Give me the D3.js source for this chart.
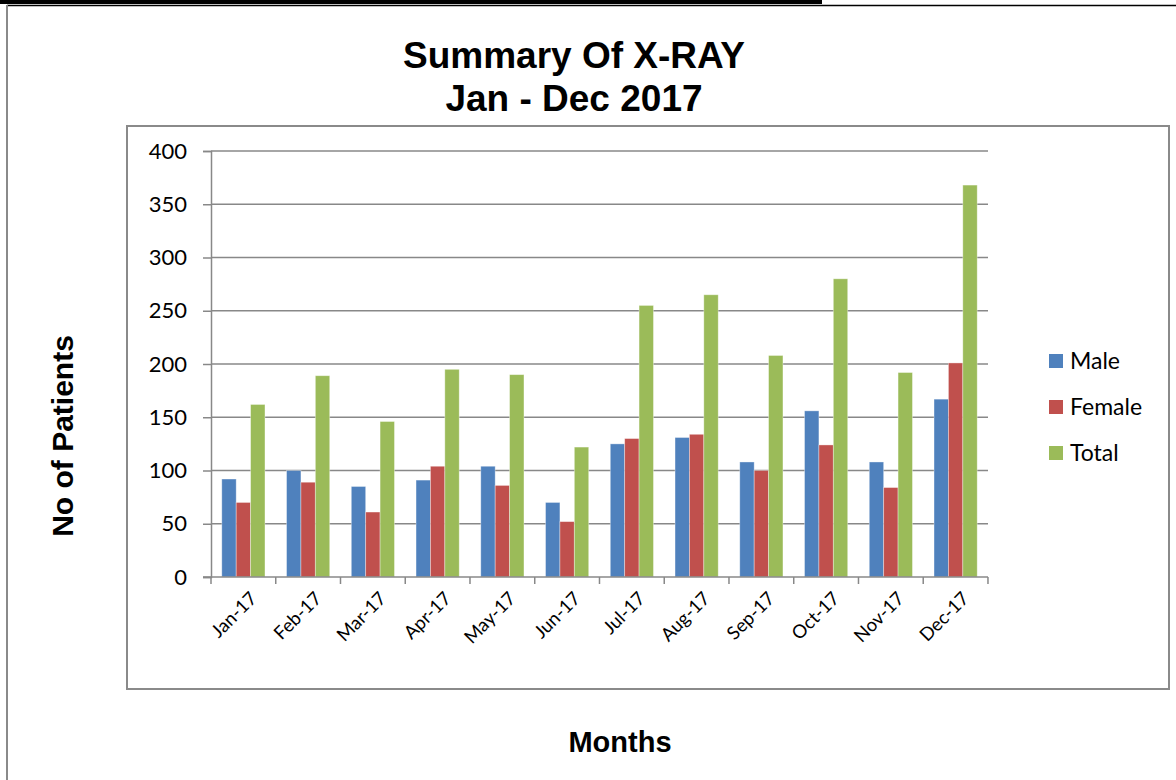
<!DOCTYPE html>
<html>
<head>
<meta charset="utf-8">
<script src="https://cdn.jsdelivr.net/npm/d3@7"></script>
<style>
  body { margin: 0; background: #fff; }
  svg { display: block; }
</style>
</head>
<body>
<svg id="chart" width="1176" height="780"></svg>
<script>
// data
var months = ["Jan-17","Feb-17","Mar-17","Apr-17","May-17","Jun-17","Jul-17","Aug-17","Sep-17","Oct-17","Nov-17","Dec-17"]
var seriesNames = ["Male","Female","Total"]
var male   = [92, 100, 85, 91, 104, 70, 125, 131, 108, 156, 108, 167]
var female = [70, 89, 61, 104, 86, 52, 130, 134, 100, 124, 84, 201]
var total  = [162, 189, 146, 195, 190, 122, 255, 265, 208, 280, 192, 368]
var yTicks = [0, 50, 100, 150, 200, 250, 300, 350, 400]
var colors = ["#4F81BD", "#C0504D", "#9BBB59"]

var svg = d3.select("#chart")

// page frame (top rule + left edge)
svg.append("rect").attr("x", 0).attr("y", 0).attr("width", 822).attr("height", 4).attr("fill", "#000")
svg.append("line").attr("x1", 7).attr("x2", 1176).attr("y1", 5.5).attr("y2", 5.5)
    .attr("stroke", "#000").attr("stroke-width", 1.5)
svg.append("line").attr("x1", 7).attr("x2", 7).attr("y1", 5).attr("y2", 780)
    .attr("stroke", "#8a8a8a").attr("stroke-width", 2)

// plot area box
svg.append("rect").attr("x", 127).attr("y", 126).attr("width", 1042).attr("height", 563)
    .attr("fill", "none").attr("stroke", "#8a8a8a").attr("stroke-width", 2)

// titles
svg.append("text").attr("x", 574).attr("y", 68).attr("text-anchor", "middle")
    .style("font-family", "Liberation Sans, Arial, sans-serif").style("font-weight", "bold").style("font-size", "37px")
    .text("Summary Of X-RAY")
svg.append("text").attr("x", 574).attr("y", 111).attr("text-anchor", "middle")
    .style("font-family", "Liberation Sans, Arial, sans-serif").style("font-weight", "bold").style("font-size", "37px")
    .text("Jan - Dec 2017")

var margin = {left: 211, top: 151, right: 988, bottom: 577}

var x0 = d3.scaleBand()
    .domain(months)
    .range([margin.left, margin.right])
    .paddingInner(0.333)
    .paddingOuter(0.1667)
var x1 = d3.scaleBand()
    .domain(seriesNames)
    .range([0, x0.bandwidth()])
var y = d3.scaleLinear()
    .domain([0, 400])
    .range([margin.bottom, margin.top])

// gridlines
svg.append("g")
    .selectAll("line")
    .data(yTicks.slice(1))
    .enter().append("line")
    .attr("x1", margin.left).attr("x2", margin.right)
    .attr("y1", d => y(d)).attr("y2", d => y(d))
    .attr("stroke", "#888").attr("stroke-width", 1.5)

// bars
var rows = months.map((m, i) => ({month: m, values: [male[i], female[i], total[i]]}))
svg.append("g")
    .selectAll("g")
    .data(rows)
    .enter().append("g")
    .attr("transform", d => "translate(" + x0(d.month) + ",0)")
    .selectAll("rect")
    .data(d => d.values.map((v, k) => ({name: seriesNames[k], value: v, k: k})))
    .enter().append("rect")
    .attr("x", d => x1(d.name))
    .attr("y", d => y(d.value))
    .attr("width", x1.bandwidth())
    .attr("height", d => y(0) - y(d.value))
    .attr("fill", d => colors[d.k])
    .attr("stroke", "rgba(255,255,255,0.45)")
    .attr("stroke-width", 0.8)

// y axis
var yAxis = svg.append("g")
    .attr("transform", "translate(" + margin.left + ",0)")
    .call(d3.axisLeft(y).tickValues(yTicks).tickSize(8).tickPadding(16))
yAxis.select(".domain").attr("stroke", "#888").attr("stroke-width", 1.5)
yAxis.selectAll(".tick line").attr("stroke", "#888").attr("stroke-width", 1.5)
yAxis.selectAll("text")
    .style("font-family", "Lato, Open Sans, sans-serif").style("font-size", "22px").attr("fill", "#000")

// x axis (ticks on band boundaries)
var xAxisG = svg.append("g")
xAxisG.append("line")
    .attr("x1", margin.left - 8).attr("x2", margin.right)
    .attr("y1", y(0)).attr("y2", y(0))
    .attr("stroke", "#888").attr("stroke-width", 1.5)
var step = x0.step()
xAxisG.selectAll("line.tk")
    .data(d3.range(months.length + 1))
    .enter().append("line").attr("class", "tk")
    .attr("x1", i => margin.left + i * step).attr("x2", i => margin.left + i * step)
    .attr("y1", y(0)).attr("y2", y(0) + 7)
    .attr("stroke", "#888").attr("stroke-width", 1.5)
xAxisG.selectAll("text")
    .data(months)
    .enter().append("text")
    .attr("transform", d => "translate(" + (x0(d) + x0.bandwidth() / 2 + 10) + "," + (y(0) + 18) + ") rotate(-45)")
    .attr("text-anchor", "end")
    .attr("dy", "0.35em")
    .style("font-family", "Lato, Open Sans, sans-serif").style("font-size", "18.5px")
    .text(d => d)

// axis titles
svg.append("text")
    .attr("transform", "translate(73,436) rotate(-90)")
    .attr("text-anchor", "middle")
    .style("font-family", "Liberation Sans, Arial, sans-serif").style("font-weight", "bold").style("font-size", "30px")
    .text("No of Patients")
svg.append("text").attr("x", 620).attr("y", 752).attr("text-anchor", "middle")
    .style("font-family", "Liberation Sans, Arial, sans-serif").style("font-weight", "bold").style("font-size", "29px")
    .text("Months")

// legend
var legend = svg.append("g")
    .selectAll("g")
    .data(seriesNames)
    .enter().append("g")
    .attr("transform", (d, i) => "translate(1049," + (361 + i * 46) + ")")
legend.append("rect").attr("x", 0).attr("y", -7).attr("width", 14).attr("height", 14)
    .attr("fill", (d, i) => colors[i])
legend.append("text").attr("x", 21).attr("dy", "0.35em")
    .style("font-family", "Lato, Open Sans, sans-serif").style("font-size", "23px")
    .text(d => d)
</script>
</body>
</html>
